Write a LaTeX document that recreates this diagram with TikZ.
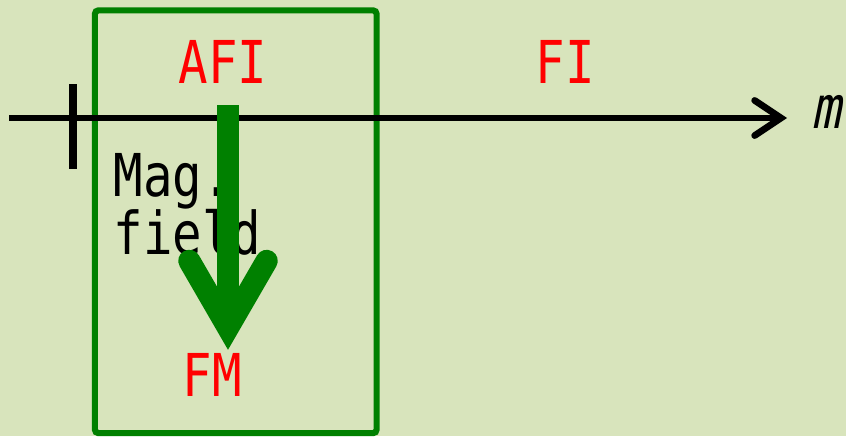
\documentclass[tikz,border=0pt]{standalone}
\usepackage{fontspec}
\usepackage{tikz}
\usetikzlibrary{arrows.meta, positioning}
\newfontfamily\gothic[FakeStretch=0.83]{DejaVu Sans Mono}
\newfontfamily\gothicit[FakeStretch=0.83,FakeSlant=0.2]{DejaVu Sans Mono}
\definecolor{bgolive}{HTML}{D8E4BC}
\definecolor{boxgreen}{HTML}{008000}
\tikzstyle{redtext} = [text=red, inner sep=0pt, font=\gothic\fontsize{16.8}{16.5}\selectfont]
\tikzstyle{blacktext} = [text=black, inner sep=0pt, align=left, font=\gothic\fontsize{16.8}{16.5}\selectfont]
\tikzstyle{axislabel} = [text=black, inner sep=0pt, font=\gothicit\fontsize{16.8}{16.5}\selectfont]
\tikzstyle{regionbox} = [rectangle, draw=boxgreen, line width=1.75pt, rounded corners=1pt, minimum width=2.815cm, minimum height=4.225cm, inner sep=0pt]
\tikzstyle{axis} = [line width=1.9pt, -{Straight Barb[length=7.5pt, width=10pt, line cap=round]}]
\tikzstyle{tick} = [line width=2pt]
\tikzstyle{fieldarrow} = [draw=boxgreen, line width=6.3pt, -{Straight Barb[length=19pt, width=22pt, line cap=round]}]

\begin{document}
\begin{tikzpicture}[x=0.01cm, y=-0.01cm]

    \fill [bgolive] (0,0) rectangle (846,436);
    \useasboundingbox (0,0) rectangle (846,436);

    \node (afmregion) [regionbox] at (235.75,221.75) {};

    \coordinate (axisstart) at (9,118);
    \coordinate (axisend) at (787,118);
    \coordinate (tickup) at (73,84);
    \coordinate (tickdown) at (73,169);
    \node (mlabel) [axislabel] at (826,111.5) {m};

    \node (afi) [redtext] at (223,61.5) {AFI};
    \node (fi) [redtext] at (565,61.5) {FI};
    \node (fm) [redtext] at (212,375) {FM};
    \node (magfield) [blacktext, anchor=north west] at (113,153) {Mag.\\field};

    \coordinate (fieldtop) at (228,105);

    \draw [axis] (axisstart) -- (axisend);
    \draw [tick] (tickup) -- (tickdown);
    \draw [fieldarrow, shorten >=0.85pt] (fieldtop) -- (fieldtop |- fm.north);

\end{tikzpicture}
\end{document}
